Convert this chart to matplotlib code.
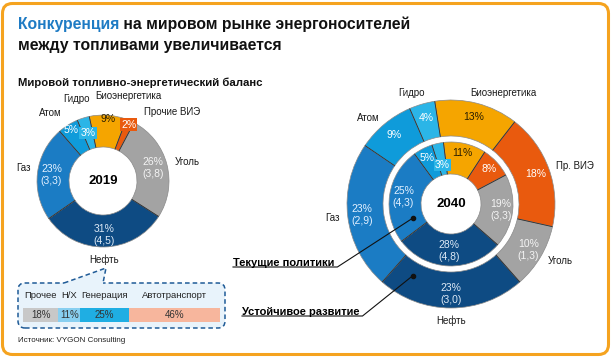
import numpy as np
import matplotlib
matplotlib.use('Agg')
import matplotlib.pyplot as plt
from matplotlib.patches import FancyBboxPatch, Polygon

plt.rcParams['font.family'] = ['Liberation Sans', 'DejaVu Sans']

# data
sources_2019 = ['Биоэнергетика', 'Прочие ВИЭ', 'Уголь', 'Нефть', 'Газ', 'Атом', 'Гидро']
sources_2040 = ['Биоэнергетика', 'Пр. ВИЭ', 'Уголь', 'Нефть', 'Газ', 'Атом', 'Гидро']
share_2019 = [9, 2, 26, 31, 23, 5, 3]
vol_2019 = [None, None, 3.8, 4.5, 3.3, None, None]
share_2040_cur = [11, 8, 19, 28, 25, 5, 3]      # Текущие политики
vol_2040_cur = [None, None, 3.3, 4.8, 4.3, None, None]
share_2040_sus = [13, 18, 10, 23, 23, 9, 4]     # Устойчивое развитие
vol_2040_sus = [None, None, 1.3, 3.0, 2.9, None, None]

oil_uses = ['Прочее', 'Н/Х', 'Генерация', 'Автотранспорт']
oil_share = [18, 11, 25, 46]

# style
colors = ['#F5A500', '#E95A0E', '#A3A3A3', '#0E4B83', '#1B7CC4', '#0F9BDA', '#2BB5E7']
txt_colors = ['#2A1E00', 'white', '#F4F4F4', '#DCE9F6', '#E2F0FF', 'white', 'white']
oil_colors = ['#C8C8C8', '#88CFF0', '#1FAEE3', '#F7B69D']
fs_pct = 7.5
fs_cat = 7

W, H = 612, 357
fig = plt.figure(figsize=(W / 100, H / 100), dpi=100)
ax = fig.add_axes([0, 0, 1, 1])


def Y(row):
    # pixel row counted from the top -> axes y
    return H - row


def polar(cx, cy, r, ang):
    a = np.deg2rad(ang)
    return cx + r * np.cos(a), cy + r * np.sin(a)


def ring(shares, cx, cy, r_out, width, start):
    # start: degrees left of 12 o'clock where the first wedge begins
    wedges, _ = ax.pie(shares, radius=r_out, center=(cx, cy), startangle=90 + start,
                       counterclock=False, colors=colors, frame=True,
                       wedgeprops=dict(width=width, linewidth=0.5, edgecolor='#8A8A8A'))
    for w in wedges:
        x0, y0 = polar(cx, cy, r_out - width, w.theta1)
        x1, y1 = polar(cx, cy, r_out, w.theta1)
        ax.plot([x0, x1], [y0, y1], color='#2E2E2E', lw=0.6, solid_capstyle='butt')
    return wedges


def pct_labels(wedges, shares, vols, cx, cy, radii, boxed=()):
    for i, (w, s, v) in enumerate(zip(wedges, shares, vols)):
        mid = (w.theta1 + w.theta2) / 2
        txt = f'{s}%' if v is None else f'{s}%\n({v:.1f})'.replace('.', ',')
        x, y = polar(cx, cy, radii[i], mid)
        bb = None
        if i in boxed:
            bb = dict(boxstyle='square,pad=0.1', fc=colors[i], ec='none')
        ax.text(x, y, txt, ha='center', va='center', fontsize=fs_pct,
                color=txt_colors[i], linespacing=1.25, bbox=bb)


def cat_labels(wedges, names, cx, cy, r, nudges):
    for w, name in zip(wedges, names):
        mid = (w.theta1 + w.theta2) / 2
        x, y = polar(cx, cy, r, mid)
        c, s = np.cos(np.deg2rad(mid)), np.sin(np.deg2rad(mid))
        ha = 'left' if c > 0.35 else ('right' if c < -0.35 else 'center')
        va = 'center' if abs(c) > 0.35 else ('bottom' if s > 0 else 'top')
        dx, dy = nudges.get(name, (0, 0))
        ax.text(x + dx, y + dy, name, ha=ha, va=va, fontsize=fs_cat, color='#1A1A1A')


# title
t1 = ax.text(18, Y(29), 'Конкуренция', color='#1E7BC4', fontsize=11.3,
             fontweight='bold', va='baseline')
ax.annotate(' на мировом рынке энергоносителей', xy=(1, 0), xycoords=t1,
            va='bottom', ha='left', fontsize=11.3, fontweight='bold', color='#111111')
ax.text(18, Y(50), 'между топливами увеличивается', fontsize=11.3,
        fontweight='bold', va='baseline', color='#111111')
ax.text(18, Y(86), 'Мировой топливно-энергетический баланс', fontsize=8.2,
        fontweight='bold', va='baseline', color='#111111')

# 2019 donut
c19 = (103, Y(181))
w19 = ring(share_2019, *c19, 66, 32, 12)
pct_labels(w19, share_2019, vol_2019, *c19, [62, 62, 52, 54, 52, 60, 50], boxed=(1, 6))
cat_labels(w19, sources_2019, *c19, 74,
           {'Гидро': (-4, 6), 'Биоэнергетика': (20, 6), 'Газ': (1, 4),
            'Прочие ВИЭ': (10, 2), 'Атом': (-2, 5)})
ax.text(*c19, '2019', ha='center', va='center', fontsize=9.5, fontweight='bold')

# 2040 double donut
c40 = (451, Y(204))
w40s = ring(share_2040_sus, *c40, 104, 36, 9)
w40c = ring(share_2040_cur, *c40, 62, 32, 7)
pct_labels(w40s, share_2040_sus, vol_2040_sus, *c40, [90] * 7)
pct_labels(w40c, share_2040_cur, vol_2040_cur, *c40, [52, 52, 50, 47, 48, 52, 40], boxed=(6,))
cat_labels(w40s, sources_2040, *c40, 112, {'Биоэнергетика': (25, -2), 'Гидро': (-8, -2)})
ax.text(*c40, '2040', ha='center', va='center', fontsize=9.5, fontweight='bold')

# callout with oil consumption structure
edge = '#1F5B97'
ax.add_patch(FancyBboxPatch((18, Y(328)), 207, 45, boxstyle='round,pad=0,rounding_size=7',
                            fc='#E8F3FB', ec=edge, lw=1.1, ls=(0, (3, 2))))
tip = [(64, Y(283)), (106, Y(268)), (103, Y(283))]
ax.add_patch(Polygon([(64, Y(285)), *tip, (103, Y(285))], closed=True, fc='#E8F3FB', ec='none'))
ax.plot(*zip(*tip), color=edge, lw=1.1, ls=(0, (3, 2)))

bar_x0, bar_w = 23, 197
widths = np.array(oil_share) / sum(oil_share) * bar_w
lefts = bar_x0 + np.concatenate([[0], np.cumsum(widths)[:-1]])
ax.barh(Y(315), widths, left=lefts, height=14, color=oil_colors)
for name, s, l, wd in zip(oil_uses, oil_share, lefts, widths):
    ax.text(l + wd / 2, Y(315), f'{s}%', ha='center', va='center', fontsize=7, color='#333333')
    ax.text(l + wd / 2, Y(295), name, ha='center', va='center', fontsize=6.8, color='#222222')

ax.text(18, Y(340), 'Источник: VYGON Consulting', fontsize=5.8, va='center', color='#222222')

# scenario pointers
notes = [('Текущие политики', 233, 263, 40, -160),
         ('Устойчивое развитие', 242, 312, 81, -118)]
note_texts = []
for name, x, row, r, ang in notes:
    t = ax.text(x, Y(row), name, fontsize=8, fontweight='bold', va='center', ha='left')
    note_texts.append((t, polar(*c40, r, ang)))

# frame
ax.add_patch(FancyBboxPatch((2.5, 2.5), 606, 351, boxstyle='round,pad=0,rounding_size=10',
                            fc='none', ec='#F5A31F', lw=2.2, clip_on=False))

ax.set_xlim(0, W)
ax.set_ylim(0, H)
ax.axis('off')

fig.canvas.draw()
inv = ax.transData.inverted()
for t, (dx, dy) in note_texts:
    bb = t.get_window_extent()
    (x0, y0), (x1, y1) = inv.transform([[bb.x0, bb.y0], [bb.x1, bb.y1]])
    uy = y0 + 1
    ax.plot([x0, x1 + 3, dx], [uy, uy, dy], color='#111111', lw=0.8)
    ax.plot(dx, dy, 'o', color='#111111', ms=3)

fig.savefig('out.png', dpi=100)
